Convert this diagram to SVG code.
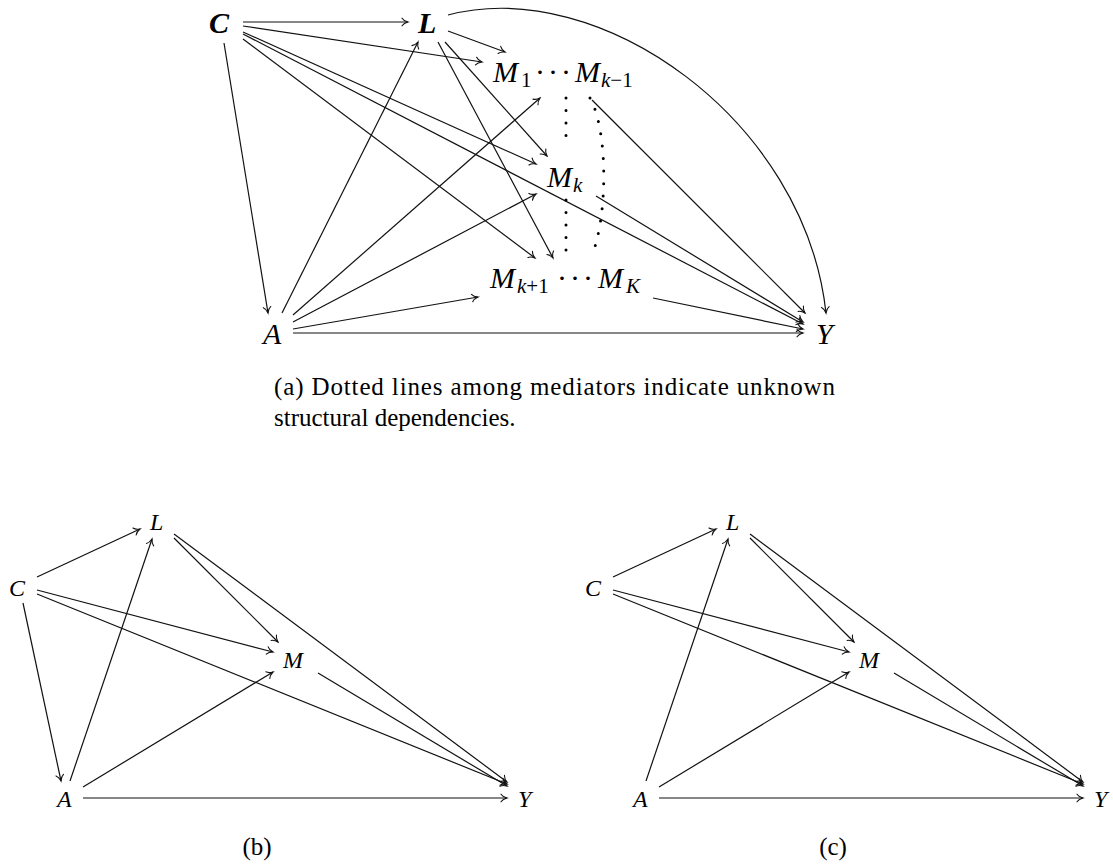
<svg xmlns="http://www.w3.org/2000/svg" width="1113" height="864" viewBox="0 0 1113 864" font-family="Liberation Serif, DejaVu Serif, serif">
<style>
text{font-family:'Liberation Serif','DejaVu Serif',serif;fill:#000}
.m{font-style:italic;font-size:30px}
.mb{font-style:italic;font-weight:bold;font-size:30px}
.sub{font-size:21px}
.subi{font-size:21px;font-style:italic}
.up{font-style:normal}
.dots{font-size:30px;text-anchor:middle}
.mm{font-style:italic;font-size:24px}
.cap{font-size:25px}
.e{fill:none;stroke:#111;stroke-width:1.2;marker-end:url(#arr)}
.dot{fill:none;stroke:#000;stroke-width:3;stroke-linecap:round;stroke-dasharray:0 12.5}
</style>
<defs>
<marker id="arr" viewBox="-8 -5 10 10" refX="0" refY="0" markerWidth="10" markerHeight="10" orient="auto" markerUnits="userSpaceOnUse">
<path d="M-6,-3.8 C-4.5,-1.5 -1.5,-0.4 0,0 C-1.5,0.4 -4.5,1.5 -6,3.8" fill="none" stroke="#111" stroke-width="1.1" stroke-linecap="round"/>
</marker>
</defs>

<g id="connectors-a">
<line class="e" x1="243" y1="22" x2="408" y2="22"/>
<line class="e" x1="243" y1="26" x2="482" y2="62"/>
<line class="e" x1="243" y1="32" x2="536" y2="164"/>
<line class="e" x1="243" y1="34" x2="803" y2="324"/>
<line class="e" x1="243" y1="39" x2="535" y2="258"/>
<line class="e" x1="224" y1="43" x2="268" y2="313"/>
<line class="e" x1="448" y1="31" x2="505" y2="52"/>
<line class="e" x1="445" y1="42" x2="547" y2="156"/>
<line class="e" x1="438" y1="42" x2="553" y2="258"/>
<path class="e" d="M448,15 C600,-25 805,120 826,313"/>
<line class="e" x1="282" y1="313" x2="418" y2="42"/>
<line class="e" x1="293" y1="315" x2="540" y2="98"/>
<line class="e" x1="293" y1="322" x2="536" y2="194"/>
<line class="e" x1="293" y1="329" x2="478" y2="297"/>
<line class="e" x1="293" y1="333" x2="803" y2="333"/>
<line class="e" x1="592" y1="100" x2="805" y2="313"/>
<line class="e" x1="596" y1="196" x2="803" y2="322"/>
<line class="e" x1="653" y1="298" x2="803" y2="329"/>
<line class="dot" x1="566" y1="98" x2="566" y2="148"/>
<line class="dot" x1="566" y1="200" x2="566" y2="251"/>
<path class="dot" d="M590,98 C608,130 608,215 592,255"/>
</g>

<g id="node-C-a"><text class="mb" x="209" y="33">C</text></g>
<g id="node-L-a"><text class="mb" x="418" y="33">L</text></g>
<g id="node-M1-Mk-1">
<text class="m" x="493" y="82">M</text><text class="sub" x="521" y="87">1</text>
<text class="dots" x="540 553 566" y="82">···</text>
<text class="m" x="575" y="82">M</text><text class="subi" x="601" y="87">k<tspan class="up">−1</tspan></text>
</g>
<g id="node-Mk"><text class="m" x="547" y="187">M</text><text class="subi" x="573" y="192">k</text></g>
<g id="node-Mk+1-MK">
<text class="m" x="490" y="288">M</text><text class="subi" x="517" y="293">k<tspan class="up">+1</tspan></text>
<text class="dots" x="562 575 588" y="288">···</text>
<text class="m" x="598" y="288">M</text><text class="subi" x="626" y="293">K</text>
</g>
<g id="node-A-a"><text class="m" x="263" y="344">A</text></g>
<g id="node-Y-a"><text class="m" x="816" y="344">Y</text></g>
<g id="caption-a">
<text class="cap" x="274" y="395" textLength="561" lengthAdjust="spacing">(a) Dotted lines among mediators indicate unknown</text>
<text class="cap" x="274" y="426">structural dependencies.</text>
</g>

<g id="connectors-b">
<line class="e" x1="37" y1="577" x2="140" y2="529"/>
<line class="e" x1="37" y1="590" x2="273" y2="652"/>
<line class="e" x1="37" y1="594" x2="507" y2="784"/>
<line class="e" x1="23" y1="603" x2="61" y2="781"/>
<line class="e" x1="70" y1="781" x2="152" y2="539"/>
<line class="e" x1="83" y1="787" x2="273" y2="672"/>
<line class="e" x1="83" y1="798" x2="507" y2="798"/>
<line class="e" x1="174" y1="538" x2="278" y2="642"/>
<line class="e" x1="174" y1="534" x2="507" y2="782"/>
<line class="e" x1="318" y1="673" x2="507" y2="786"/>
</g>
<g id="node-C-b"><text class="mm" x="9" y="596">C</text></g>
<g id="node-L-b"><text class="mm" x="150" y="530">L</text></g>
<g id="node-M-b"><text class="mm" x="283" y="668">M</text></g>
<g id="node-A-b"><text class="mm" x="57" y="807">A</text></g>
<g id="node-Y-b"><text class="mm" x="518" y="807">Y</text></g>
<g id="caption-b"><text class="cap" x="257" y="855" text-anchor="middle">(b)</text></g>

<g id="connectors-c">
<line class="e" x1="613" y1="577" x2="716" y2="529"/>
<line class="e" x1="613" y1="590" x2="849" y2="652"/>
<line class="e" x1="613" y1="594" x2="1083" y2="784"/>
<line class="e" x1="646" y1="781" x2="728" y2="539"/>
<line class="e" x1="659" y1="787" x2="849" y2="672"/>
<line class="e" x1="659" y1="798" x2="1083" y2="798"/>
<line class="e" x1="750" y1="538" x2="854" y2="642"/>
<line class="e" x1="750" y1="534" x2="1083" y2="782"/>
<line class="e" x1="894" y1="673" x2="1083" y2="786"/>
</g>
<g id="node-C-c"><text class="mm" x="585" y="596">C</text></g>
<g id="node-L-c"><text class="mm" x="726" y="530">L</text></g>
<g id="node-M-c"><text class="mm" x="859" y="668">M</text></g>
<g id="node-A-c"><text class="mm" x="633" y="807">A</text></g>
<g id="node-Y-c"><text class="mm" x="1094" y="807">Y</text></g>
<g id="caption-c"><text class="cap" x="833" y="855" text-anchor="middle">(c)</text></g>
</svg>
